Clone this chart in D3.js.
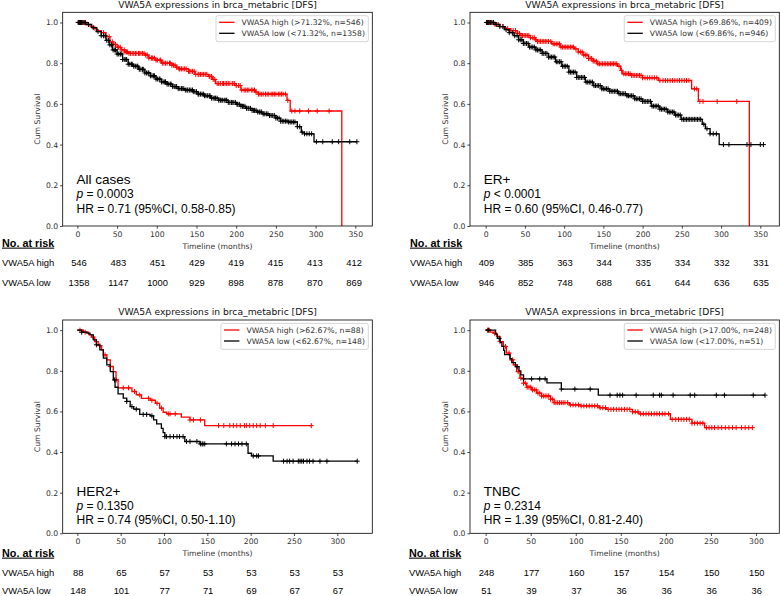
<!DOCTYPE html>
<html>
<head>
<meta charset="utf-8">
<title>VWA5A KM curves</title>
<script src="https://cdn.jsdelivr.net/npm/d3@7/dist/d3.min.js"></script>
<style>
  body { margin: 0; background: #fff; }
  .mpl { font-family: "DejaVu Sans", sans-serif; }
  .arial { font-family: "Liberation Sans", Arial, sans-serif; }
</style>
</head>
<body>
<svg id="chart" width="780" height="596"></svg>
<script>
// ---------- data ----------
var titleText = "VWA5A expressions in brca_metabric [DFS]"
var groupNames = ["All cases", "ER+", "HER2+", "TNBC"]
var pTexts = ["= 0.0003", "< 0.0001", "= 0.1350", "= 0.2314"]
var hrTexts = ["HR = 0.71 (95%CI, 0.58-0.85)", "HR = 0.60 (95%CI, 0.46-0.77)",
               "HR = 0.74 (95%CI, 0.50-1.10)", "HR = 1.39 (95%CI, 0.81-2.40)"]
var highLabels = ["VWA5A high (>71.32%, n=546)", "VWA5A high (>69.86%, n=409)",
                  "VWA5A high (>62.67%, n=88)", "VWA5A high (>17.00%, n=248)"]
var lowLabels = ["VWA5A low (<71.32%, n=1358)", "VWA5A low (<69.86%, n=946)",
                 "VWA5A low (<62.67%, n=148)", "VWA5A low (<17.00%, n=51)"]

var yTicks = [0, 0.2, 0.4, 0.6, 0.8, 1.0]
var xTicksLong = [0, 50, 100, 150, 200, 250, 300, 350]
var xTicksShort = [0, 50, 100, 150, 200, 250, 300]

// risk tables
var riskHighAll = [546, 483, 451, 429, 419, 415, 413, 412]
var riskLowAll = [1358, 1147, 1000, 929, 898, 878, 870, 869]
var riskHighER = [409, 385, 363, 344, 335, 334, 332, 331]
var riskLowER = [946, 852, 748, 688, 661, 644, 636, 635]
var riskHighHER2 = [88, 65, 57, 53, 53, 53, 53]
var riskLowHER2 = [148, 101, 77, 71, 69, 67, 67]
var riskHighTNBC = [248, 177, 160, 157, 154, 150, 150]
var riskLowTNBC = [51, 39, 37, 36, 36, 36, 36]

// KM steps: [month, survival after the drop]; censor times in months
var allHighSteps = [[10,0.99],[16,0.98],[20,0.972],[25,0.96],[30,0.95],[36,0.93],[41,0.905],[45,0.892],[50,0.878],[55,0.865],[60,0.855],[65,0.848],[85,0.84],[90,0.825],[98,0.815],[106,0.8],[119,0.79],[124,0.78],[128,0.772],[140,0.76],[148,0.745],[165,0.735],[170,0.72],[174,0.7],[200,0.69],[206,0.668],[224,0.658],[228,0.648],[264,0.617],[268,0.565],[333,0]]
var allHighEnd = 333
var allHighCens = [2,3,4,5,6,9,14,22,33,40,44,46,48,51,52,54,56,59,60,62,63,65,67,69,71,73,74,77,78,80,82,84,86,88,90,93,94,95,97,99,101,104,105,107,109,111,113,116,117,119,121,123,125,128,129,131,133,135,137,140,141,143,145,147,149,152,153,155,157,159,161,163,166,167,169,171,173,176,178,180,183,184,186,188,190,192,195,196,198,200,203,205,207,210,212,214,216,219,221,223,225,228,230,232,234,237,239,241,244,246,248,250,253,255,257,259,262,265,270,274,280,291,302,317]

var allLowSteps = [[12,0.99],[18,0.975],[24,0.955],[30,0.935],[36,0.912],[40,0.89],[44,0.865],[50,0.845],[57,0.818],[64,0.795],[70,0.785],[77,0.77],[85,0.752],[92,0.738],[99,0.722],[106,0.708],[113,0.697],[120,0.685],[127,0.675],[135,0.668],[146,0.66],[152,0.648],[160,0.64],[168,0.628],[178,0.618],[190,0.607],[200,0.598],[206,0.588],[212,0.578],[220,0.568],[226,0.56],[233,0.551],[242,0.543],[250,0.53],[256,0.515],[266,0.511],[277,0.488],[282,0.461],[286,0.453],[298,0.414]]
var allLowEnd = 352
var allLowCens = [1,2,3,4,5,6,8,10,14,20,26,30,33,35,37,39,41,43,45,47,48,50,52,54,55,57,59,61,62,64,66,68,69,71,73,75,76,78,80,82,83,85,87,89,90,92,94,96,97,99,101,103,104,106,108,110,111,113,115,117,118,120,122,124,125,127,129,131,132,134,136,138,139,141,143,145,146,148,150,152,153,155,157,159,160,162,164,166,167,169,171,173,174,176,178,180,181,183,185,187,188,190,192,194,195,197,199,201,202,204,206,208,209,211,213,215,216,218,220,222,223,225,227,229,230,232,234,236,238,240,242,244,246,248,250,252,254,256,258,260,262,264,266,268,270,272,274,277,280,283,286,289,292,295,301,309,321,329,343,352]

var erHighSteps = [[10,0.99],[18,0.98],[25,0.97],[32,0.96],[40,0.946],[44,0.936],[57,0.925],[63,0.915],[66,0.907],[84,0.895],[95,0.879],[113,0.87],[118,0.855],[124,0.84],[131,0.823],[137,0.81],[142,0.797],[168,0.785],[172,0.765],[174,0.748],[186,0.74],[200,0.728],[220,0.715],[262.5,0.674],[271,0.612],[336,0]]
var erHighEnd = 336
var erHighCens = [2,3,4,5,7,12,16,22,28,32,35,38,41,43,45,47,49,51,53,55,57,60,62,64,66,68,70,72,74,76,78,80,83,86,88,90,92,94,96,98,100,102,104,106,108,110,112,115,118,121,123,125,127,129,131,133,135,137,139,141,143,145,147,149,151,153,155,157,159,161,163,165,167,170,173,176,178,180,182,184,186,188,190,192,194,196,198,200,203,206,209,212,215,218,222,226,229,232,235,238,241,244,247,250,253,256,259,266,269,273,277,295,320]

var erLowSteps = [[12,0.99],[18,0.98],[24,0.965],[30,0.95],[36,0.935],[42,0.915],[48,0.897],[55,0.879],[64,0.865],[72,0.848],[80,0.83],[89,0.807],[97,0.785],[106,0.756],[116,0.73],[127,0.707],[137,0.69],[148,0.674],[158,0.662],[169,0.65],[180,0.64],[190,0.625],[200,0.612],[211,0.589],[222,0.574],[232,0.56],[241,0.545],[249,0.524],[276,0.5],[280,0.478],[286,0.453],[297.6,0.4]]
var erLowEnd = 354
var erLowCens = [1,2,3,4,6,8,10,14,18,22,26,30,34,37,40,42,44,46,48,50,52,54,56,58,60,62,64,66,68,70,72,74,76,78,80,82,84,86,88,90,92,94,96,98,100,102,104,106,108,110,112,114,116,118,120,122,124,126,128,130,132,134,136,138,140,142,144,146,148,150,152,154,156,158,160,162,164,166,168,170,172,174,176,178,180,182,184,186,188,190,192,194,196,198,200,202,204,206,208,210,212,214,216,218,220,222,224,226,228,230,232,234,236,238,240,242,244,246,248,250,252,254,256,258,260,262,264,266,268,270,272,274,278,282,286,290,294,303,310,333,338,350,354]

var herHighSteps = [[7,0.99],[13,0.978],[16.5,0.966],[20,0.944],[24,0.924],[28,0.903],[30,0.878],[34,0.854],[38,0.821],[41.5,0.796],[44.6,0.755],[47,0.716],[63,0.698],[68,0.681],[74,0.664],[84,0.655],[90,0.64],[95,0.616],[99,0.596],[103,0.588],[120,0.572],[130,0.558],[147,0.53]]
var herHighEnd = 270
var herHighCens = [3,9,18,22,26,32,38,45,53,59,66,72,82,86,92,97,105,107,113,130,134,142,163,169,176,180,184,188,193,195,199,203,207,211,217,226,270]

var herLowSteps = [[5,0.99],[11,0.985],[14.6,0.977],[18.5,0.952],[22,0.928],[26,0.903],[30,0.862],[34,0.829],[38,0.796],[41.5,0.755],[43.5,0.719],[47,0.686],[53,0.665],[57,0.649],[61,0.624],[65,0.611],[72,0.585],[84,0.578],[88,0.558],[91.5,0.539],[97,0.517],[99,0.496],[101,0.476],[124,0.452],[141.5,0.44],[197,0.394],[201,0.381],[226,0.355]]
var herLowEnd = 323
var herLowCens = [5,22,43,57,63,68,76,80,86,101,103,107,111,115,118,122,126,130,138,142,144,145,147,172,178,182,186,190,195,203,207,209,238,242,245,249,255,257,259,261,265,268,272,280,288,323]

var tnHighSteps = [[5,0.99],[8.5,0.985],[12,0.969],[16,0.944],[19.6,0.92],[23,0.887],[27,0.854],[30.7,0.829],[34.4,0.796],[38,0.764],[42,0.739],[45.5,0.719],[51,0.706],[56.6,0.69],[62,0.676],[72,0.66],[76,0.643],[93,0.632],[105,0.627],[126,0.618],[134,0.61],[163,0.598],[170,0.588],[205,0.561],[229,0.542],[243,0.52]]
var tnHighEnd = 296
var tnHighCens = [2,4,10,16,22,26,30,33,36,39,42,44,46,48,50,52,54,56,58,60,62,64,66,68,70,72,74,76,78,80,82,84,86,88,91,94,97,100,103,106,109,112,115,118,121,124,127,130,133,136,139,142,145,148,151,154,157,160,163,166,169,172,175,178,181,184,187,190,193,196,199,203,207,211,214,217,220,223,226,229,232,235,238,241,245,248,251,254,258,262,266,270,274,278,284,288,292,296]

var tnLowSteps = [[11,0.98],[13,0.96],[16,0.94],[18,0.92],[20,0.9],[21,0.88],[27,0.86],[29,0.84],[33,0.82],[37,0.8],[39,0.78],[42,0.76],[68,0.74],[84,0.71],[125,0.68]]
var tnLowEnd = 310
var tnLowCens = [3,15,35,42,51,60,66,84,99,116,138,146,149,152,167,186,193,195,208,227,232,256,265,297,310]

// ---------- layout ----------
var panels = [
  { left: 62.7, top: 12.3, w: 309.6, h: 213.7, xDomain: [-18.5, 371.4], ticks: xTicksLong,
    high: [allHighSteps, allHighEnd, allHighCens], low: [allLowSteps, allLowEnd, allLowCens],
    riskHigh: riskHighAll, riskLow: riskLowAll, tableX: 2, annoY: [184.3, 198.3, 212.7], rowY: [246.6, 265.8, 286.2] },
  { left: 470, top: 12.3, w: 309.3, h: 213.7, xDomain: [-20, 374.2], ticks: xTicksLong,
    high: [erHighSteps, erHighEnd, erHighCens], low: [erLowSteps, erLowEnd, erLowCens],
    riskHigh: riskHighER, riskLow: riskLowER, tableX: 410, annoY: [184.3, 198.3, 212.7], rowY: [246.6, 265.8, 286.2] },
  { left: 62.7, top: 320, w: 309.6, h: 213.3, xDomain: [-16.9, 340.4], ticks: xTicksShort,
    high: [herHighSteps, herHighEnd, herHighCens], low: [herLowSteps, herLowEnd, herLowCens],
    riskHigh: riskHighHER2, riskLow: riskLowHER2, tableX: 2, annoY: [496, 509.5, 524], rowY: [556.6, 576, 594] },
  { left: 470, top: 320, w: 309.3, h: 213.3, xDomain: [-17.4, 325.9], ticks: xTicksShort,
    high: [tnHighSteps, tnHighEnd, tnHighCens], low: [tnLowSteps, tnLowEnd, tnLowCens],
    riskHigh: riskHighTNBC, riskLow: riskLowTNBC, tableX: 409, annoY: [496, 509.5, 524], rowY: [556.6, 576, 594] }
]

var RED = "#ff0000"
var BLACK = "#000000"

var svg = d3.select("#chart")

panels.forEach(function (p, i) { drawPanel(p, i) })

function survivalAt(steps, t) {
  var s = 1
  steps.forEach(function (d) { if (d[0] <= t) s = d[1] })
  return s
}

function drawPanel(p, i) {
  var g = svg.append("g")
  var x = d3.scaleLinear().domain(p.xDomain).range([p.left, p.left + p.w])
  var y = d3.scaleLinear().domain([0, 1.05]).range([p.top + p.h, p.top])

  // title
  g.append("text").attr("class", "mpl")
    .attr("x", p.left + p.w / 2).attr("y", p.top - 4.6)
    .attr("text-anchor", "middle").attr("font-size", 9.2).attr("fill", "#111")
    .text(titleText)

  // axes
  var xAxis = g.append("g").attr("class", "mpl")
    .attr("transform", "translate(0," + (p.top + p.h) + ")")
    .call(d3.axisBottom(x).tickValues(p.ticks).tickSize(2.7).tickSizeOuter(0).tickPadding(2.9).tickFormat(d3.format("d")))
  var yAxis = g.append("g").attr("class", "mpl")
    .attr("transform", "translate(" + p.left + ",0)")
    .call(d3.axisLeft(y).tickValues(yTicks).tickSize(2.7).tickSizeOuter(0).tickPadding(1.8).tickFormat(d3.format(".1f")))
  ;[xAxis, yAxis].forEach(function (a) {
    a.select(".domain").remove()
    a.selectAll("line").attr("stroke", "#000").attr("stroke-width", 0.7)
    a.selectAll("text").attr("font-size", 7.7).attr("fill", "#333").attr("font-family", "DejaVu Sans")
  })

  g.append("text").attr("class", "mpl")
    .attr("x", p.left + p.w / 2).attr("y", p.top + p.h + 22.6)
    .attr("text-anchor", "middle").attr("font-size", 7.7).attr("fill", "#333")
    .text("Timeline (months)")
  g.append("text").attr("class", "mpl")
    .attr("transform", "translate(" + (p.left - 22.4) + "," + (p.top + p.h / 2) + ") rotate(-90)")
    .attr("text-anchor", "middle").attr("font-size", 7.7).attr("fill", "#333")
    .text("Cum Survival")

  // curves
  var line = d3.line().x(function (d) { return x(d[0]) }).y(function (d) { return y(d[1]) })
    .curve(d3.curveStepAfter)
  var plus = "M-2.5,0H2.5M0,-2.5V2.5"

  ;[[p.high, RED], [p.low, BLACK]].forEach(function (c) {
    var steps = c[0][0], end = c[0][1], cens = c[0][2], col = c[1]
    var pts = [[0, 1]].concat(steps)
    pts.push([end, pts[pts.length - 1][1]])
    g.append("path").attr("d", line(pts))
      .attr("fill", "none").attr("stroke", col).attr("stroke-width", 1.3)
    var alive = steps.filter(function (d) { return d[1] > 0 })
    g.append("g").selectAll("path").data(cens).join("path")
      .attr("transform", function (t) { return "translate(" + x(t) + "," + y(survivalAt(alive, t)) + ")" })
      .attr("d", plus).attr("stroke", col).attr("stroke-width", 1).attr("fill", "none")
  })

  // frame
  g.append("rect").attr("x", p.left).attr("y", p.top).attr("width", p.w).attr("height", p.h)
    .attr("fill", "none").attr("stroke", "#000").attr("stroke-width", 0.8)

  // legend
  var lg = g.append("g")
  var lbox = lg.append("rect")
  var labels = [[highLabels[i], RED], [lowLabels[i], BLACK]]
  var maxW = 0
  labels.forEach(function (l, k) {
    var t = lg.append("text").attr("class", "mpl").attr("font-size", 7.7).attr("fill", "#333")
      .attr("x", 25.5).attr("y", 10 + k * 11).attr("dy", "0.36em").text(l[0])
    maxW = Math.max(maxW, t.node().getComputedTextLength())
    lg.append("line").attr("x1", 3.1).attr("x2", 18.5).attr("y1", 10 + k * 11).attr("y2", 10 + k * 11)
      .attr("stroke", l[1]).attr("stroke-width", 1.3)
  })
  var boxW = 25.5 + maxW + 3.4
  lbox.attr("x", 0).attr("y", 3.4).attr("width", boxW).attr("height", 26).attr("rx", 2)
    .attr("fill", "rgba(255,255,255,0.8)").attr("stroke", "#cccccc").attr("stroke-width", 0.8)
  lg.attr("transform", "translate(" + (p.left + p.w - 4 - boxW) + "," + p.top + ")")

  // annotation
  var ax = p.left + 13.8
  g.append("text").attr("class", "arial").attr("x", ax).attr("y", p.annoY[0])
    .attr("font-size", 13.5).attr("fill", "#000").text(groupNames[i])
  var pt = g.append("text").attr("class", "arial").attr("x", ax).attr("y", p.annoY[1])
    .attr("font-size", 12).attr("fill", "#000")
  pt.append("tspan").attr("font-style", "italic").text("p")
  pt.append("tspan").text(" " + pTexts[i])
  g.append("text").attr("class", "arial").attr("x", ax).attr("y", p.annoY[2])
    .attr("font-size", 12).attr("fill", "#000").text(hrTexts[i])

  // risk table
  g.append("text").attr("class", "arial").attr("x", p.tableX).attr("y", p.rowY[0])
    .attr("font-size", 10.8).attr("font-weight", "bold").attr("text-decoration", "underline")
    .attr("fill", "#000").text("No. at risk")
  ;[["VWA5A high", p.riskHigh], ["VWA5A low", p.riskLow]].forEach(function (r, k) {
    var ry = p.rowY[k + 1]
    g.append("text").attr("class", "arial").attr("x", p.tableX).attr("y", ry)
      .attr("font-size", 9.4).attr("fill", "#000").text(r[0])
    g.append("g").selectAll("text").data(r[1]).join("text")
      .attr("class", "arial")
      .attr("x", function (d, j) { return x(p.ticks[j]) + (i === 0 ? 1.6 - j * 0.4 : 0.8) })
      .attr("y", ry).attr("text-anchor", "middle")
      .attr("font-size", 9.4).attr("fill", "#000").text(function (d) { return d })
  })
}
</script>
</body>
</html>
